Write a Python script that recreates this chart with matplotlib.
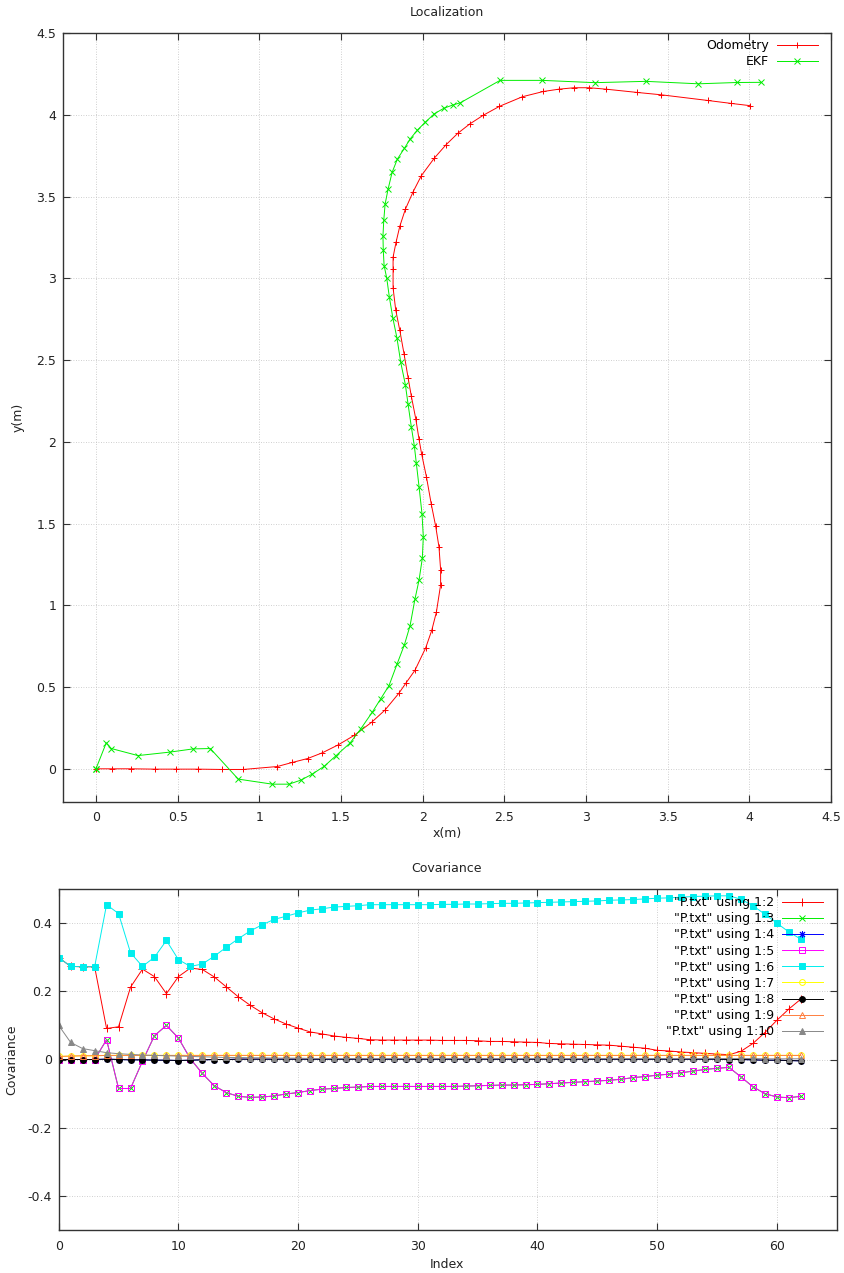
import matplotlib
matplotlib.use('Agg')
import matplotlib.pyplot as plt

# --- Localization (top) ---
odom_x = [0.0, 0.10, 0.216, 0.361, 0.488, 0.627, 0.770, 0.902, 1.110, 1.202, 1.296, 1.386, 1.484, 1.580,
          1.688, 1.770, 1.855, 1.900, 1.953, 2.019, 2.056, 2.084, 2.110, 2.110, 2.100, 2.080, 2.053, 2.023,
          1.994, 1.978, 1.958, 1.931, 1.911, 1.886, 1.860, 1.835, 1.819, 1.819, 1.819, 1.837, 1.860, 1.894,
          1.941, 1.992, 2.072, 2.143, 2.215, 2.288, 2.370, 2.470, 2.611, 2.739, 2.833, 2.927, 3.019, 3.125,
          3.315, 3.458, 3.746, 3.889, 4.007]
odom_y = [0.0, 0.0, 0.0, -0.002, -0.002, -0.002, -0.004, -0.004, 0.014, 0.039, 0.063, 0.098, 0.147, 0.204,
          0.285, 0.360, 0.463, 0.528, 0.603, 0.741, 0.848, 0.958, 1.125, 1.218, 1.357, 1.483, 1.618, 1.787,
          1.925, 2.015, 2.141, 2.278, 2.392, 2.539, 2.683, 2.808, 2.942, 3.056, 3.131, 3.221, 3.319, 3.423,
          3.529, 3.629, 3.737, 3.818, 3.888, 3.945, 3.998, 4.053, 4.112, 4.144, 4.158, 4.167, 4.167, 4.158,
          4.138, 4.124, 4.089, 4.071, 4.057]
ekf_x = [0.0, 0.0, 0.063, 0.094, 0.257, 0.451, 0.596, 0.700, 0.871, 1.080, 1.182, 1.255, 1.325, 1.398,
         1.468, 1.555, 1.620, 1.692, 1.743, 1.794, 1.843, 1.888, 1.923, 1.953, 1.978, 1.998, 2.004, 1.996,
         1.978, 1.961, 1.949, 1.931, 1.911, 1.894, 1.866, 1.843, 1.817, 1.796, 1.780, 1.764, 1.759, 1.757,
         1.762, 1.770, 1.788, 1.813, 1.845, 1.888, 1.923, 1.968, 2.015, 2.072, 2.131, 2.184, 2.231, 2.474,
         2.733, 3.054, 3.366, 3.688, 3.923, 4.072]
ekf_y = [0.0, 0.0, 0.159, 0.124, 0.081, 0.102, 0.122, 0.124, -0.063, -0.094, -0.094, -0.069, -0.032, 0.016,
         0.079, 0.157, 0.243, 0.347, 0.428, 0.509, 0.640, 0.758, 0.876, 1.039, 1.155, 1.288, 1.420, 1.561,
         1.726, 1.872, 1.976, 2.090, 2.229, 2.351, 2.486, 2.634, 2.761, 2.887, 3.003, 3.079, 3.172, 3.260,
         3.356, 3.454, 3.545, 3.649, 3.730, 3.796, 3.853, 3.908, 3.955, 4.008, 4.042, 4.061, 4.075, 4.212,
         4.212, 4.198, 4.206, 4.191, 4.199, 4.200]

# --- Covariance (bottom), P.txt columns 2..10 ---
p_xx = [0.299, 0.273, 0.272, 0.272, 0.091, 0.096, 0.212, 0.265, 0.243, 0.193, 0.243, 0.268, 0.264, 0.242,
        0.213, 0.184, 0.159, 0.137, 0.119, 0.104, 0.092, 0.081, 0.075, 0.069, 0.065, 0.062, 0.058, 0.057,
        0.057, 0.057, 0.057, 0.057, 0.056, 0.056, 0.056, 0.055, 0.053, 0.053, 0.052, 0.051, 0.050, 0.047,
        0.046, 0.045, 0.044, 0.043, 0.042, 0.039, 0.036, 0.033, 0.027, 0.025, 0.022, 0.020, 0.018, 0.016,
        0.014, 0.024, 0.047, 0.079, 0.115, 0.148, 0.177]
p_xy = [0.0, 0.0, 0.0, 0.0, 0.058, -0.085, -0.085, -0.005, 0.070, 0.100, 0.063, 0.002, -0.041, -0.077,
        -0.097, -0.108, -0.111, -0.110, -0.107, -0.101, -0.097, -0.091, -0.087, -0.085, -0.082, -0.081,
        -0.079, -0.079, -0.079, -0.079, -0.079, -0.079, -0.079, -0.079, -0.078, -0.077, -0.076, -0.075,
        -0.075, -0.074, -0.073, -0.071, -0.069, -0.067, -0.065, -0.063, -0.061, -0.058, -0.053, -0.050,
        -0.046, -0.043, -0.039, -0.034, -0.029, -0.026, -0.023, -0.051, -0.080, -0.100, -0.110, -0.112,
        -0.108]
p_xt = [0.0, 0.0, 0.0, 0.0, 0.001, 0.0, -0.001, -0.001, -0.002, -0.002, -0.003, -0.002, -0.001, 0.0,
        0.0, 0.001, 0.001, 0.001, 0.001, 0.001, 0.001, 0.001, 0.001, 0.001, 0.001, 0.001, 0.001, 0.001,
        0.001, 0.001, 0.001, 0.001, 0.001, 0.001, 0.001, 0.001, 0.001, 0.001, 0.001, 0.001, 0.001, 0.001,
        0.001, 0.001, 0.001, 0.001, 0.001, 0.001, 0.001, 0.001, 0.001, 0.001, 0.001, 0.001, 0.001, 0.001,
        0.0, 0.0, -0.001, -0.002, -0.002, -0.003, -0.004]
p_yy = [0.299, 0.273, 0.272, 0.272, 0.454, 0.428, 0.313, 0.273, 0.300, 0.349, 0.293, 0.273, 0.280, 0.303,
        0.329, 0.354, 0.377, 0.395, 0.411, 0.420, 0.430, 0.438, 0.442, 0.447, 0.449, 0.451, 0.454, 0.454,
        0.454, 0.454, 0.454, 0.454, 0.455, 0.455, 0.456, 0.456, 0.457, 0.458, 0.458, 0.459, 0.460, 0.461,
        0.462, 0.463, 0.464, 0.465, 0.467, 0.468, 0.469, 0.471, 0.473, 0.474, 0.476, 0.478, 0.479, 0.480,
        0.480, 0.470, 0.451, 0.426, 0.400, 0.374, 0.353]
p_yt = [0.009, 0.010, 0.011, 0.011, 0.012, 0.012, 0.012, 0.012, 0.012, 0.012, 0.012, 0.012, 0.012, 0.012,
        0.012, 0.012, 0.012, 0.012, 0.012, 0.012, 0.012, 0.012, 0.012, 0.012, 0.012, 0.012, 0.012, 0.012,
        0.012, 0.012, 0.012, 0.012, 0.012, 0.012, 0.012, 0.012, 0.012, 0.012, 0.012, 0.012, 0.012, 0.012,
        0.012, 0.012, 0.012, 0.012, 0.012, 0.012, 0.012, 0.012, 0.012, 0.012, 0.012, 0.012, 0.012, 0.012,
        0.012, 0.012, 0.012, 0.012, 0.012, 0.012, 0.012]
p_tt = [0.100, 0.050, 0.032, 0.026, 0.020, 0.017, 0.015, 0.013, 0.012, 0.011, 0.010, 0.009, 0.008, 0.007,
        0.006, 0.006, 0.005, 0.005, 0.004, 0.004, 0.004, 0.003, 0.003, 0.003, 0.003, 0.003, 0.003, 0.003,
        0.003, 0.003, 0.003, 0.003, 0.003, 0.003, 0.003, 0.003, 0.003, 0.003, 0.003, 0.003, 0.003, 0.003,
        0.003, 0.003, 0.003, 0.003, 0.003, 0.003, 0.003, 0.003, 0.003, 0.003, 0.003, 0.003, 0.003, 0.003,
        0.003, 0.003, 0.003, 0.002, 0.002, 0.002, 0.002]
index = list(range(len(p_xx)))

# columns in file order 2..10: xx, xy, xt, yx, yy, yt, tx, ty, tt
columns = [p_xx, p_xy, p_xt, p_xy, p_yy, p_yt, p_xt, p_yt, p_tt]
col_labels = ['"P.txt" using 1:%d' % c for c in range(2, 11)]
col_colors = ['#ff0000', '#00ee00', '#0000ff', '#ff00ff', '#00eeee', '#ffff00', '#000000', '#ff7f3f', '#888888']
col_markers = ['+', 'x', (8, 2, 0), 's', 's', 'o', 'o', '^', '^']
col_sizes = [5.5, 4.5, 5, 4.2, 4.2, 4.2, 4.2, 4.5, 4.5]
col_filled = [True, True, True, False, True, False, True, False, True]

plt.rcParams['font.family'] = 'DejaVu Sans'
plt.rcParams['font.size'] = 9

FW, FH = 844, 1273
fig = plt.figure(figsize=(FW / 100, FH / 100), dpi=100)


def px_axes(left, top, right, bottom):
    return fig.add_axes([left / FW, 1 - bottom / FH, (right - left) / FW, (bottom - top) / FH])


def gnuplot_style(ax):
    for s in ax.spines.values():
        s.set_color('#333333')
        s.set_linewidth(1.0)
    ax.tick_params(direction='in', length=5, width=0.8, top=True, right=True,
                   colors='#333333', labelcolor='#222222', labelsize=9)
    ax.tick_params(axis='x', pad=7)
    ax.tick_params(axis='y', pad=5)
    ax.grid(True, color='#c0c0c0', linestyle=(0, (1, 2)), linewidth=0.6)
    ax.set_axisbelow(True)


ax1 = px_axes(63.3, 33.3, 831, 801.5)
ax1.plot(odom_x, odom_y, color='#ff0000', lw=0.7, marker='+', ms=5, mew=0.7, label='Odometry')
ax1.plot(ekf_x, ekf_y, color='#00ee00', lw=0.7, marker='x', ms=3.8, mew=0.7, label='EKF')
ax1.set_xlim(-0.2, 4.5)
ax1.set_ylim(-0.2, 4.5)
ax1.set_xticks([0, 0.5, 1, 1.5, 2, 2.5, 3, 3.5, 4, 4.5])
ax1.set_xticklabels(['0', '0.5', '1', '1.5', '2', '2.5', '3', '3.5', '4', '4.5'])
ax1.set_yticks([0, 0.5, 1, 1.5, 2, 2.5, 3, 3.5, 4, 4.5])
ax1.set_yticklabels(['0', '0.5', '1', '1.5', '2', '2.5', '3', '3.5', '4', '4.5'])
gnuplot_style(ax1)
ax1.legend(loc='upper right', bbox_to_anchor=(0.983, 0.9926), markerfirst=False, frameon=False,
           handlelength=3.3, handletextpad=0.6, labelspacing=0.25, borderpad=0, borderaxespad=0,
           fontsize=9, numpoints=1)

ax2 = px_axes(58.7, 889, 836.7, 1230)
for vals, lab, col, mk, sz, filled in zip(columns, col_labels, col_colors, col_markers, col_sizes, col_filled):
    ax2.plot(index, vals, color=col, lw=0.7, marker=mk, ms=sz, mew=0.7,
             mfc=col if filled else 'none', mec=col, label=lab)
ax2.set_xlim(0, 65)
ax2.set_ylim(-0.5, 0.5)
ax2.set_xticks([0, 10, 20, 30, 40, 50, 60])
ax2.set_yticks([-0.4, -0.2, 0, 0.2, 0.4])
ax2.set_yticklabels(['-0.4', '-0.2', '0', '0.2', '0.4'])
gnuplot_style(ax2)
ax2.legend(loc='upper right', bbox_to_anchor=(0.9824, 0.979), markerfirst=False, frameon=False,
           handlelength=3.3, handletextpad=0.6, labelspacing=0.25, borderpad=0, borderaxespad=0,
           fontsize=9, numpoints=1)

fig.text(447 / FW, 1 - 13 / FH, 'Localization', ha='center', va='center', fontsize=9, color='#222222')
fig.text(447 / FW, 1 - 833 / FH, 'x(m)', ha='center', va='center', fontsize=9, color='#222222')
fig.text(18 / FW, 1 - 417 / FH, 'y(m)', ha='center', va='center', rotation=90, fontsize=9, color='#222222')
fig.text(447 / FW, 1 - 868 / FH, 'Covariance', ha='center', va='center', fontsize=9, color='#222222')
fig.text(447 / FW, 1 - 1264 / FH, 'Index', ha='center', va='center', fontsize=9, color='#222222')
fig.text(12 / FW, 1 - 1060 / FH, 'Covariance', ha='center', va='center', rotation=90, fontsize=9,
         color='#222222')

fig.savefig('out.png', dpi=100)
